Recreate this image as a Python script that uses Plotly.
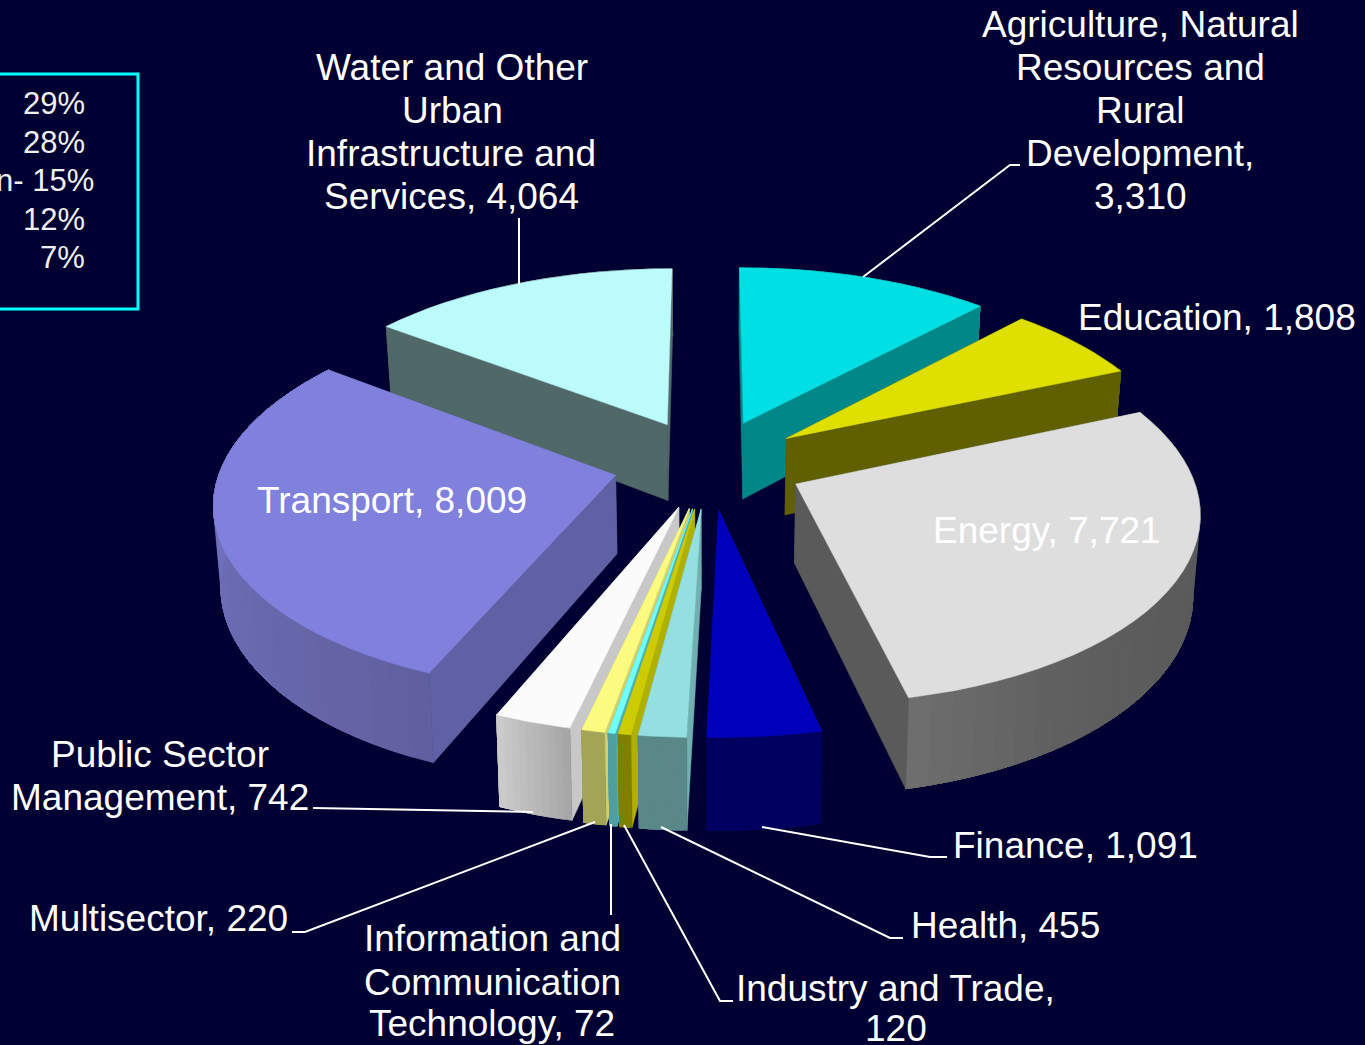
import math
import plotly.graph_objects as go

# ---- data ----
sectors = ["Agriculture", "Education", "Energy", "Finance", "Health", "Industry",
           "ICT", "Multisector", "Public Sector", "Transport", "Water"]
values = [3310, 1808, 7721, 1091, 455, 120, 72, 220, 742, 8009, 4064]
legend_values = ["29%", "28%", "n- 15%", "12%", "7%"]

# ---- styles ----
top_colors = ["#00E0E4", "#E0E000", "#DEDEDE", "#0000BC", "#94E0E0", "#CCCC00",
              "#70FFFF", "#FBFB80", "#FBFBFB", "#8080DD", "#BBFBFB"]
wall_colors = ["#008888", "#606000", "#5A5A5A", "#000060", "#70B0B0", "#B0B000",
               "#50B0B0", "#D0D070", "#C8C8C8", "#6060A5", "#506868"]
arc_start = ["#008888", "#606000", "#5A5A5A", "#000060", "#5A8888", "#808000",
             "#50A0A0", "#A5A558", "#A5A5A5", "#6060A0", "#506868"]
arc_end = ["#008888", "#606000", "#707070", "#000060", "#5A8888", "#808000",
           "#50A0A0", "#A5A558", "#CCCCCC", "#7A7ACC", "#506868"]
arc_power = [1, 1, 5, 1, 1, 1, 1, 1, 1, 1, 1]
BG = "#000032"
FONT = "Liberation Sans"

# ---- projection of the 3-D pie ----
CX, CY = 709.0, 463.5
AX, AY, PERSP = 400.0, 185.5, 0.13
EXPLODE, DEPTH, BOTTOM_SHRINK = 0.24, 78.0, 0.985
RADIUS_X = 0.984


def project(x, y, bottom=False):
    d = 1 + PERSP * y
    px = AX * x / d
    py = CY - AY * y / d
    if bottom:
        return CX + px * BOTTOM_SHRINK, py + DEPTH / d
    return CX + px, py


def mix(c1, c2, t):
    a = [int(c1[i:i + 2], 16) for i in (1, 3, 5)]
    b = [int(c2[i:i + 2], 16) for i in (1, 3, 5)]
    return "rgb(%d,%d,%d)" % tuple(round(p + (q - p) * t) for p, q in zip(a, b))


fig = go.Figure()


def poly(points, color):
    xs = [p[0] for p in points] + [points[0][0]]
    ys = [p[1] for p in points] + [points[0][1]]
    fig.add_trace(go.Scatter(x=xs, y=ys, mode="lines", fill="toself", fillcolor=color,
                             line=dict(color=color, width=0.5), hoverinfo="skip"))


total = sum(values)
slices = []
acc = 0.0
for i, v in enumerate(values):
    a0 = acc / total * 2 * math.pi
    acc += v
    a1 = acc / total * 2 * math.pi
    mid = (a0 + a1) / 2
    ox, oy = EXPLODE * math.sin(mid), EXPLODE * math.cos(mid)
    slices.append((math.cos(mid), i, a0, a1, ox, oy))

for _, i, a0, a1, ox, oy in sorted(slices, key=lambda s: -s[0]):
    n = max(10, int((a1 - a0) / math.radians(3)))
    arc = [(ox + RADIUS_X * math.sin(a0 + (a1 - a0) * k / n), oy + math.cos(a0 + (a1 - a0) * k / n))
           for k in range(n + 1)]
    tip = (ox, oy)

    def radial_face(p):
        return [project(*tip), project(*p), project(*p, bottom=True), project(*tip, bottom=True)]

    def draw_arc():
        # each band covers the rest of the arc, so the next one paints over it without seams
        for k in range(n):
            t = ((k + 0.5) / n) ** arc_power[i]
            rest = arc[k:]
            poly([project(*p) for p in rest] + [project(*p, bottom=True) for p in reversed(rest)],
                 mix(arc_start[i], arc_end[i], t))

    faces = [
        ((tip[1] + arc[0][1]) / 2, lambda: poly(radial_face(arc[0]), wall_colors[i])),
        ((tip[1] + arc[-1][1]) / 2, lambda: poly(radial_face(arc[-1]), wall_colors[i])),
        (sum(p[1] for p in arc) / len(arc), draw_arc),
    ]
    for _, draw in sorted(faces, key=lambda f: -f[0]):
        draw()
    poly([project(*tip)] + [project(*p) for p in arc], top_colors[i])

# ---- leader lines ----
leaders = [
    [(1020, 165), (1010, 165), (863, 277)],
    [(519, 218), (519, 285)],
    [(313, 808), (533, 812)],
    [(292, 932), (305, 932), (595, 822)],
    [(611, 915), (611, 824)],
    [(733, 1001), (720, 1001), (624, 825)],
    [(903, 938), (890, 938), (661, 827)],
    [(947, 857), (930, 857), (762, 827)],
]
for pts in leaders:
    fig.add_trace(go.Scatter(x=[p[0] for p in pts], y=[p[1] for p in pts], mode="lines",
                             line=dict(color="#FFFFFF", width=2), hoverinfo="skip"))

# ---- text ----
labels = [
    ("Agriculture, Natural", 1140, 24), ("Resources and", 1140, 67), ("Rural", 1140, 110),
    ("Development,", 1140, 153), ("3,310", 1140, 196),
    ("Water and Other", 452, 67), ("Urban", 452, 110), ("Infrastructure and", 451, 153),
    ("Services, 4,064", 451, 196),
    ("Education, 1,808", 1217, 317),
    ("Transport, 8,009", 392, 500),
    ("Energy, 7,721", 1047, 530),
    ("Finance, 1,091", 1075, 845),
    ("Health, 455", 1005, 925),
    ("Industry and Trade,", 895, 988), ("120", 896, 1028),
    ("Information and", 492, 938), ("Communication", 492, 982), ("Technology, 72", 492, 1023),
    ("Multisector, 220", 158, 918),
    ("Public Sector", 160, 754), ("Management, 742", 160, 797),
]
annotations = [dict(x=x, y=y, text=t, showarrow=False, xanchor="center", yanchor="middle",
                    borderpad=0, font=dict(family=FONT, size=37, color="#FFFFFF"))
               for t, x, y in labels]

legend_right = [86, 86, 95, 86, 86]
legend_y = [103, 142, 180, 219, 257]
for t, x, y in zip(legend_values, legend_right, legend_y):
    annotations.append(dict(x=x, y=y, text=t, showarrow=False, xanchor="right", yanchor="middle",
                            borderpad=0, font=dict(family=FONT, size=31, color="#F0F0F0")))

fig.update_layout(
    width=1365, height=1045,
    margin=dict(l=0, r=0, t=0, b=0),
    paper_bgcolor=BG, plot_bgcolor=BG,
    showlegend=False,
    xaxis=dict(range=[0, 1365], visible=False, fixedrange=True),
    yaxis=dict(range=[1045, 0], visible=False, fixedrange=True),
    annotations=annotations,
    shapes=[dict(type="rect", x0=-5, x1=138, y0=74, y1=309,
                 line=dict(color="#00FFFF", width=3), fillcolor="rgba(0,0,0,0)")],
)
fig.write_html("out.html", config=dict(displayModeBar=False),
               post_script="document.body.style.margin='0';document.body.style.overflow='hidden';"
                           "document.documentElement.style.background='%s';" % BG)
